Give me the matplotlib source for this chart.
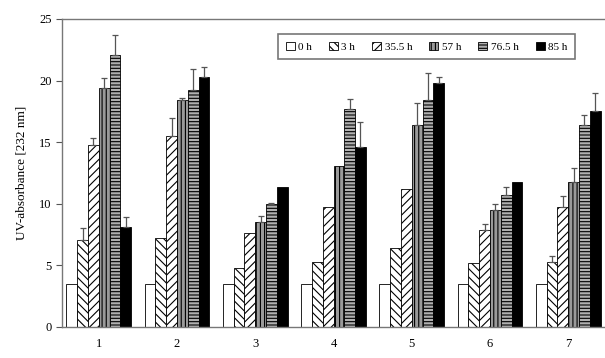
import numpy as np
import matplotlib
matplotlib.use("Agg")
import matplotlib.pyplot as plt

plt.rcParams["font.family"] = ["Liberation Serif", "DejaVu Serif"]
plt.rcParams["hatch.linewidth"] = 0.8

samples = ["1", "2", "3", "4", "5", "6", "7"]
times = ["0 h", "3 h", "35.5 h", "57 h", "76.5 h", "85 h"]

h0 = [3.5, 3.5, 3.5, 3.5, 3.5, 3.5, 3.5]
h3 = [7.1, 7.2, 4.8, 5.3, 6.4, 5.2, 5.3]
h35 = [14.8, 15.5, 7.6, 9.7, 11.2, 7.9, 9.7]
h57 = [19.4, 18.4, 8.5, 13.1, 16.4, 9.5, 11.8]
h76 = [22.1, 19.2, 10.0, 17.7, 18.4, 10.7, 16.4]
h85 = [8.1, 20.3, 11.4, 14.6, 19.8, 11.8, 17.5]

e0 = [0, 0, 0, 0, 0, 0, 0]
e3 = [0.9, 0, 0, 0, 0, 0, 0.5]
e35 = [0.5, 1.5, 0, 0, 0, 0.5, 0.9]
e57 = [0.8, 0.2, 0.5, 0, 1.8, 0.5, 1.1]
e76 = [1.6, 1.7, 0.1, 0.8, 2.2, 0.7, 0.8]
e85 = [0.8, 0.8, 0, 2.0, 0.5, 0, 1.5]

series = [h0, h3, h35, h57, h76, h85]
errors = [e0, e3, e35, e57, e76, e85]
faces = ["white", "white", "white", "#9a9a9a", "#b0b0b0", "black"]
hatches = ["", "\\\\\\\\", "////", "||||", "-----", ""]

fig = plt.figure(figsize=(6.05, 3.58), dpi=100)
ax = fig.add_axes([0.1025, 0.0866, 0.8975, 0.8604])

x = np.arange(1, len(samples) + 1)
w = 0.138
for i in range(6):
    pos = x + (i - 2.5) * w
    ax.bar(pos, series[i], width=w, color=faces[i], edgecolor="black",
           hatch=hatches[i], linewidth=0.6, label=times[i])
    err = np.array(errors[i])
    m = err > 0
    ax.errorbar(pos[m], np.array(series[i])[m], yerr=[np.zeros(m.sum()), err[m]],
                fmt="none", ecolor="#555555", elinewidth=0.9, capsize=2.5, capthick=0.9)

ax.set_xlim(0.53, 7.47)
ax.set_ylim(0, 25)
ax.set_yticks([0, 5, 10, 15, 20, 25])
ax.set_xticks(x, samples)
ax.tick_params(axis="x", length=0, pad=8, labelsize=9)
ax.tick_params(axis="y", direction="out", length=4, width=0.8, labelsize=9, color="#555555")
ax.spines["right"].set_visible(False)
for s in ["left", "top", "bottom"]:
    ax.spines[s].set_color("#777777")
    ax.spines[s].set_linewidth(1.0)
ax.set_ylabel("UV-absorbance [232 nm]", fontsize=9.5, labelpad=8)

leg = ax.legend(ncol=6, loc="upper right", bbox_to_anchor=(0.955, 0.97), fontsize=8,
                frameon=True, fancybox=False, edgecolor="#555555",
                handlelength=0.8, handleheight=0.8, handletextpad=0.3,
                columnspacing=1.55, borderpad=0.7)
leg.get_frame().set_linewidth(1.2)

fig.savefig("out.png", dpi=100)
